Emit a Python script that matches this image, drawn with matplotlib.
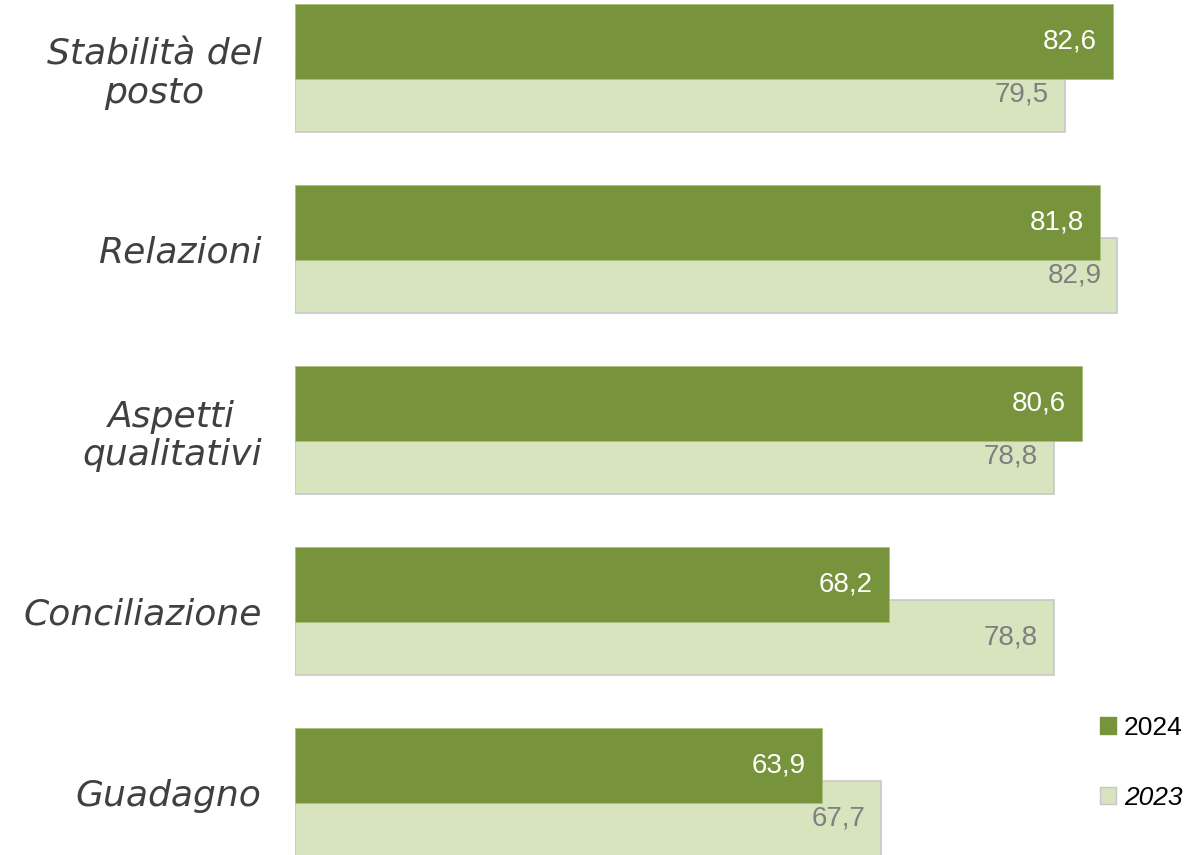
import matplotlib.pyplot as plt
from matplotlib.patches import Patch

categories = ['Stabilità del\nposto', 'Relazioni', 'Aspetti\nqualitativi',
              'Conciliazione', 'Guadagno']
val_2024 = [82.6, 81.8, 80.6, 68.2, 63.9]
val_2023 = [79.5, 82.9, 78.8, 78.8, 67.7]

dark = '#77933C'
light = '#D7E4BD'

fig = plt.figure(figsize=(11.89, 8.55), dpi=100)
ax = fig.add_axes([0.248, 0.0, 0.752, 1.0])

pos = list(range(len(categories)))
h = 0.414
off = 0.145

# 2023 behind, shifted down
ax.barh([p + off for p in pos], [v - 30 for v in val_2023], left=30, height=h,
        color=light, edgecolor='#C8C8C8', linewidth=1.2, zorder=1)
ax.barh([p - off for p in pos], [v - 30 for v in val_2024], left=30, height=h,
        color=dark, edgecolor='#A9C07A', linewidth=0.6, zorder=2)

for p, v in zip(pos, val_2024):
    ax.annotate(f'{v:.1f}'.replace('.', ','), xy=(v, p - off), xytext=(-11.5, 0),
                textcoords='offset points', ha='right', va='center',
                color='white', fontsize=20, family='Liberation Sans', zorder=3)
for p, v in zip(pos, val_2023):
    ax.annotate(f'{v:.1f}'.replace('.', ','), xy=(v, p + off), xytext=(-11.5, 0),
                textcoords='offset points', ha='right', va='center',
                color='#7F7F7F', fontsize=20, family='Liberation Sans', zorder=3)

ax.set_xlim(30, 87.5)
ax.set_ylim(4.348, -0.376)
ax.set_xticks([])
ax.set_yticks(pos)
ax.set_yticklabels(categories, fontsize=26, style='italic', color='#404040',
                   ha='right', multialignment='center', linespacing=1.15)
ax.tick_params(axis='y', length=0, pad=24)
for s in ax.spines.values():
    s.set_visible(False)

handles = [Patch(facecolor=dark, edgecolor=dark),
           Patch(facecolor=light, edgecolor='#C8C8C8')]
leg = fig.legend(handles, ['2024', '2023'], loc='center left',
                 bbox_to_anchor=(1087 / 1189, 1 - 763 / 855), frameon=False,
                 prop={'family': 'Liberation Sans', 'size': 19},
                 handlelength=0.6, handleheight=0.6, handletextpad=0.3,
                 labelspacing=1.75, borderpad=0)
leg.get_texts()[1].set_style('italic')

fig.savefig('out.png', dpi=100)
